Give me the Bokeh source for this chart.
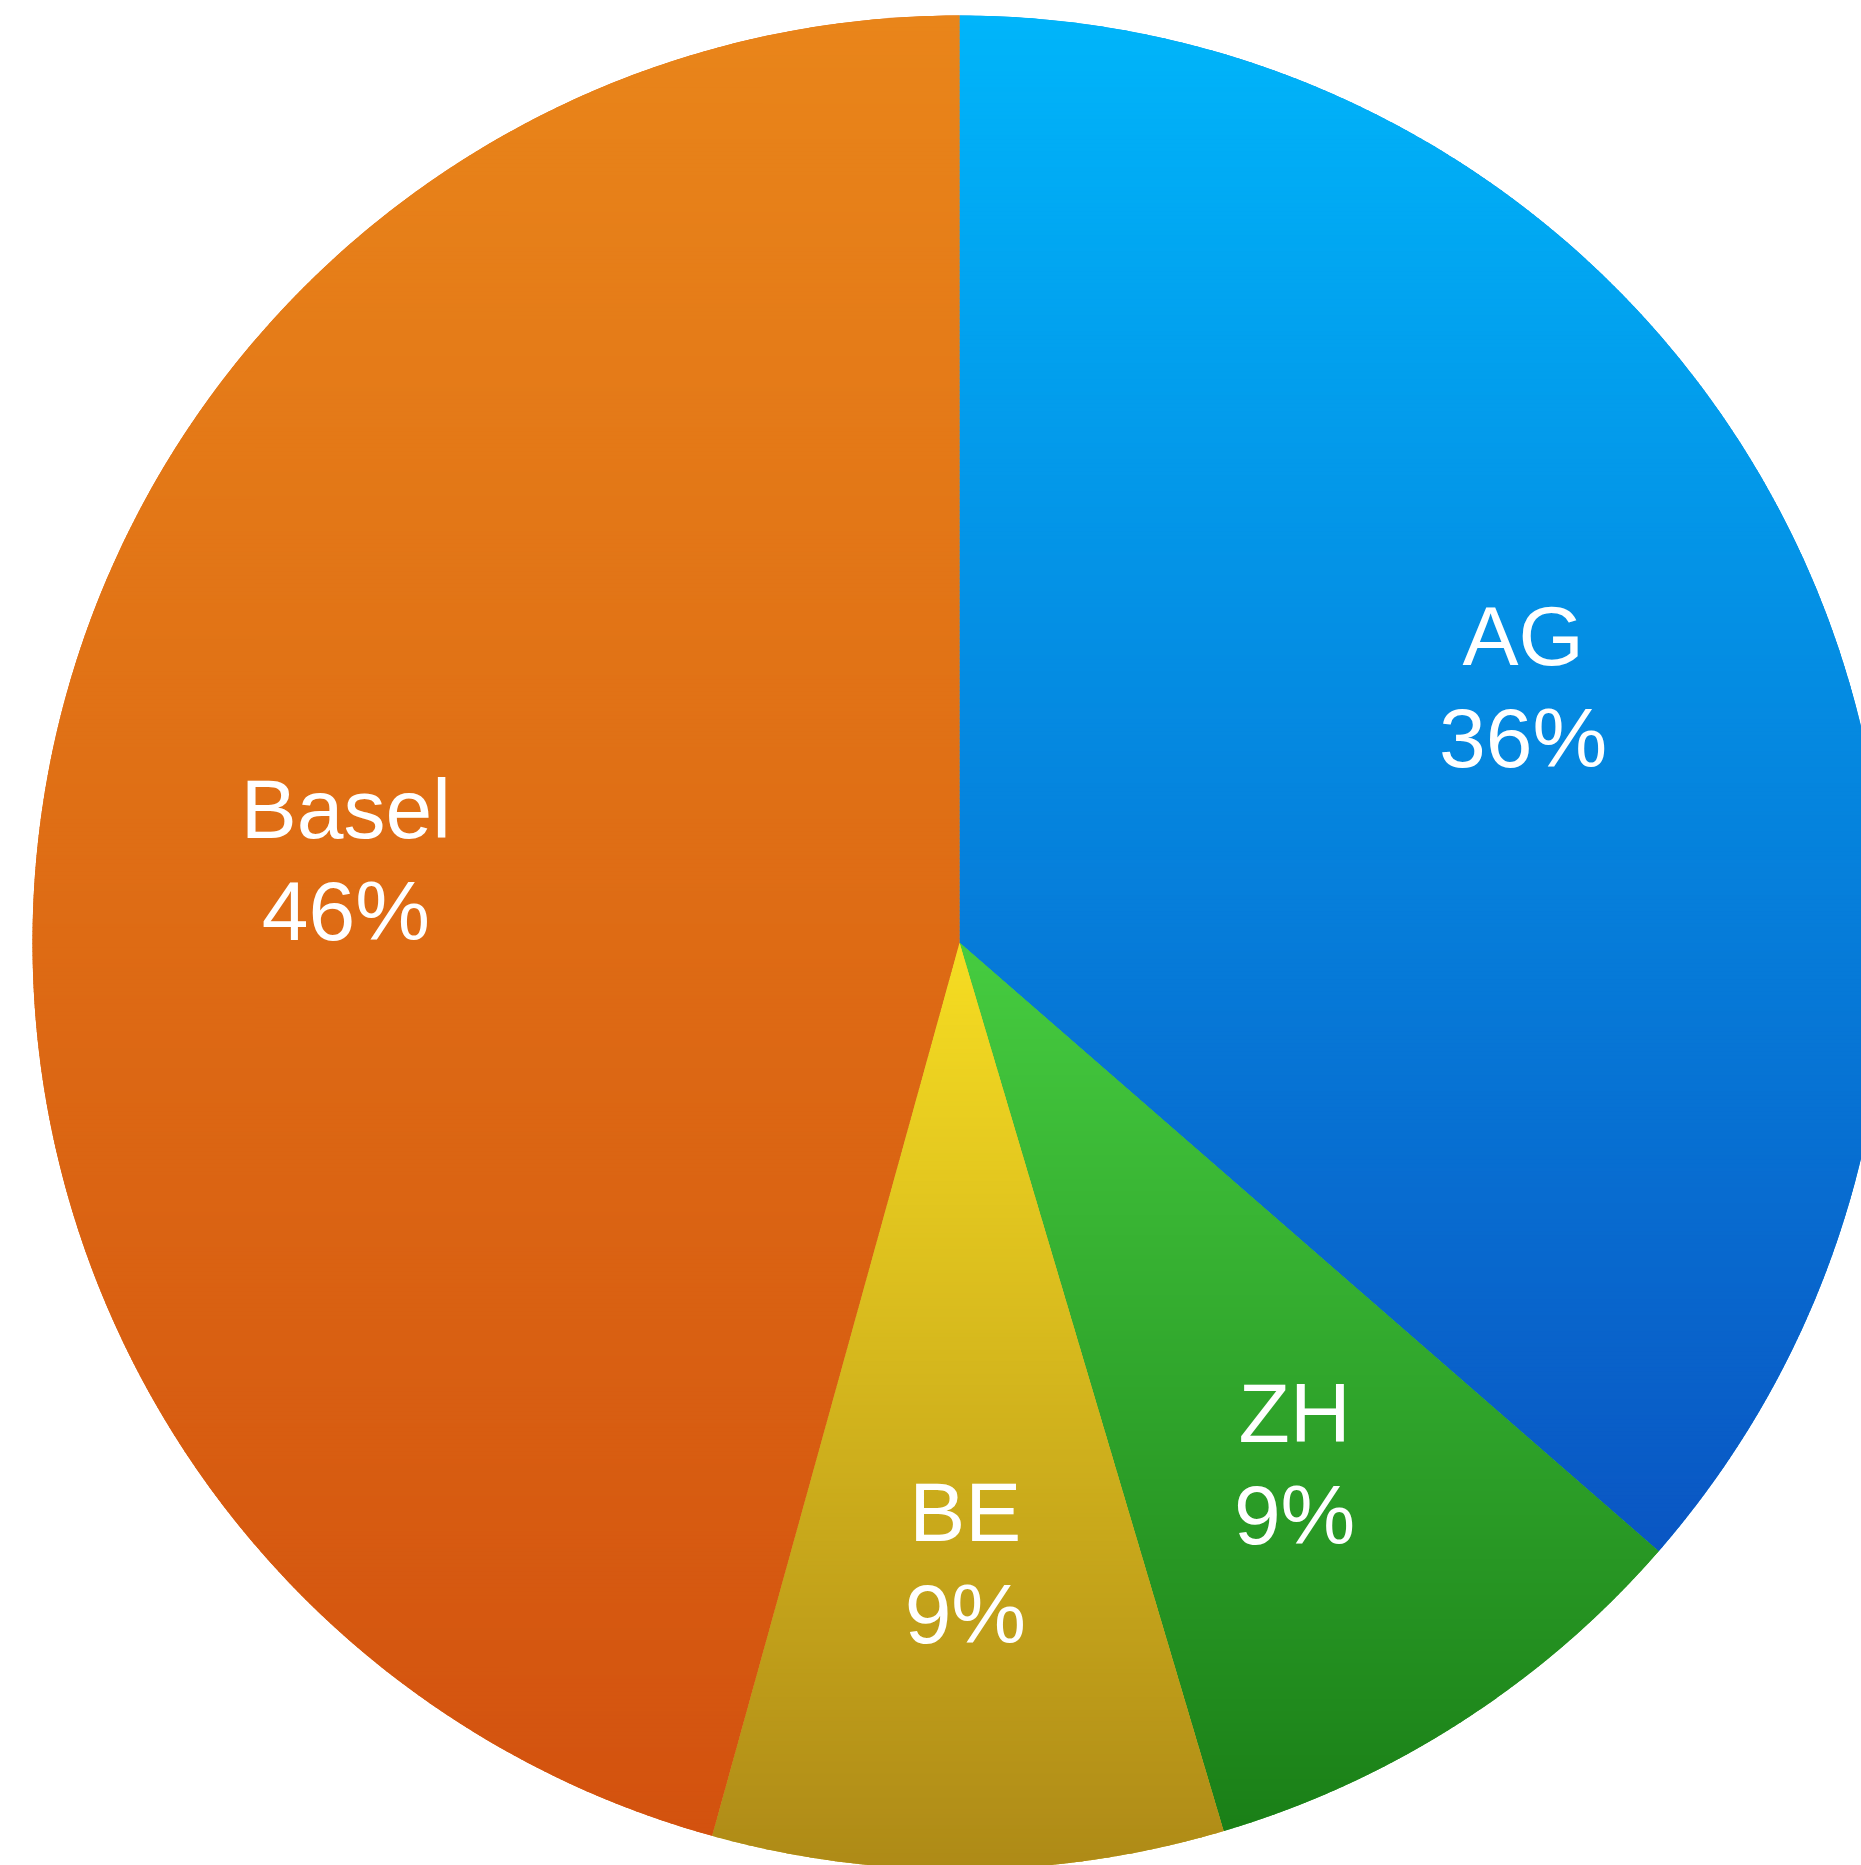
import numpy as np
from bokeh.plotting import figure
from bokeh.models import Range1d, ColumnDataSource
from bokeh.embed import file_html
from bokeh.resources import INLINE
from bokeh.core.properties import value

# ---- data ----
categories = ["AG", "ZH", "BE", "Basel"]
shares = [36.4, 9.0, 8.9, 45.7]
top_colors = ["#00B5FA", "#46CC40", "#F6DD22", "#E9851A"]
bottom_colors = ["#0A56C3", "#1A7F17", "#AE8A17", "#D3520F"]

# ---- geometry (data units = screen pixels) ----
W, H = 1861, 1865
CX, CY = 959, 942          # pie centre, from figure's left / top
R = 927
LABEL_R = 0.668 * R
FONT = "Liberation Sans"

p = figure(width=W, height=H, output_backend="svg", toolbar_location=None,
           x_range=Range1d(-CX, W - CX), y_range=Range1d(CY - H, CY),
           x_axis_location=None, y_axis_location=None, min_border=0,
           background_fill_color="white", border_fill_color="white")
p.outline_line_color = None
p.grid.visible = False

total = float(sum(shares))
frac = np.array(shares) / total
cum = np.concatenate([[0.0], np.cumsum(frac)])
start = np.pi / 2 - 2 * np.pi * cum[:-1]
end = np.pi / 2 - 2 * np.pi * cum[1:]


def hex2rgb(h):
    h = h.lstrip("#")
    return np.array([int(h[i:i + 2], 16) for i in (0, 2, 4)], dtype=float)


def rgb2hex(c):
    c = np.clip(np.round(c), 0, 255).astype(int)
    return "#%02x%02x%02x" % tuple(c)


def clip(poly, y, keep_above):
    out = []
    n = len(poly)
    for i in range(n):
        cur = poly[i]
        prev = poly[i - 1]
        cin = cur[1] >= y if keep_above else cur[1] <= y
        pin = prev[1] >= y if keep_above else prev[1] <= y
        if cin:
            if not pin:
                t = (y - prev[1]) / (cur[1] - prev[1])
                out.append((prev[0] + t * (cur[0] - prev[0]), y))
            out.append(cur)
        elif pin:
            t = (y - prev[1]) / (cur[1] - prev[1])
            out.append((prev[0] + t * (cur[0] - prev[0]), y))
    return out


# base wedges (solid mid colours)
mid_colors = [rgb2hex((hex2rgb(a) + hex2rgb(b)) / 2) for a, b in zip(top_colors, bottom_colors)]
p.wedge(x=0, y=0, radius=R, start_angle=start, end_angle=end, direction="clock",
        fill_color=mid_colors, line_color=None)

# vertical gradient per slice, drawn as thin horizontal bands
bx, by, bc = [], [], []
STEP = 4.0
for i in range(len(categories)):
    th = np.linspace(start[i], end[i], 400)
    poly = [(0.0, 0.0)] + [(R * np.cos(t), R * np.sin(t)) for t in th]
    ys_all = [q[1] for q in poly]
    ymin, ymax = min(ys_all), max(ys_all)
    c_top, c_bot = hex2rgb(top_colors[i]), hex2rgb(bottom_colors[i])
    y0 = ymin
    while y0 < ymax:
        y1 = min(y0 + STEP, ymax)
        band = clip(poly, y0, True)
        if band:
            band = clip(band, y1 + 0.8, False)
        if len(band) >= 3:
            t = (ymax - (y0 + y1) / 2) / (ymax - ymin)
            bx.append([q[0] for q in band])
            by.append([q[1] for q in band])
            bc.append(rgb2hex(c_top + (c_bot - c_top) * t))
        y0 = y1

p.patches(xs="xs", ys="ys", fill_color="c", line_color=None,
          source=ColumnDataSource(dict(xs=bx, ys=by, c=bc)))

# labels
mid = (start + end) / 2
ax = LABEL_R * np.cos(mid)
ay = LABEL_R * np.sin(mid)
pct = ["%d%%" % round(s) for s in shares]
p.text(x=ax, y=ay + 50, text=categories, text_align="center", text_baseline="alphabetic",
       text_color="white", text_font=value(FONT), text_font_size="84px")
p.text(x=ax, y=ay - 52, text=pct, text_align="center", text_baseline="alphabetic",
       text_color="white", text_font=value(FONT), text_font_size="84px")

open("out.html", "w").write(file_html(p, INLINE))
